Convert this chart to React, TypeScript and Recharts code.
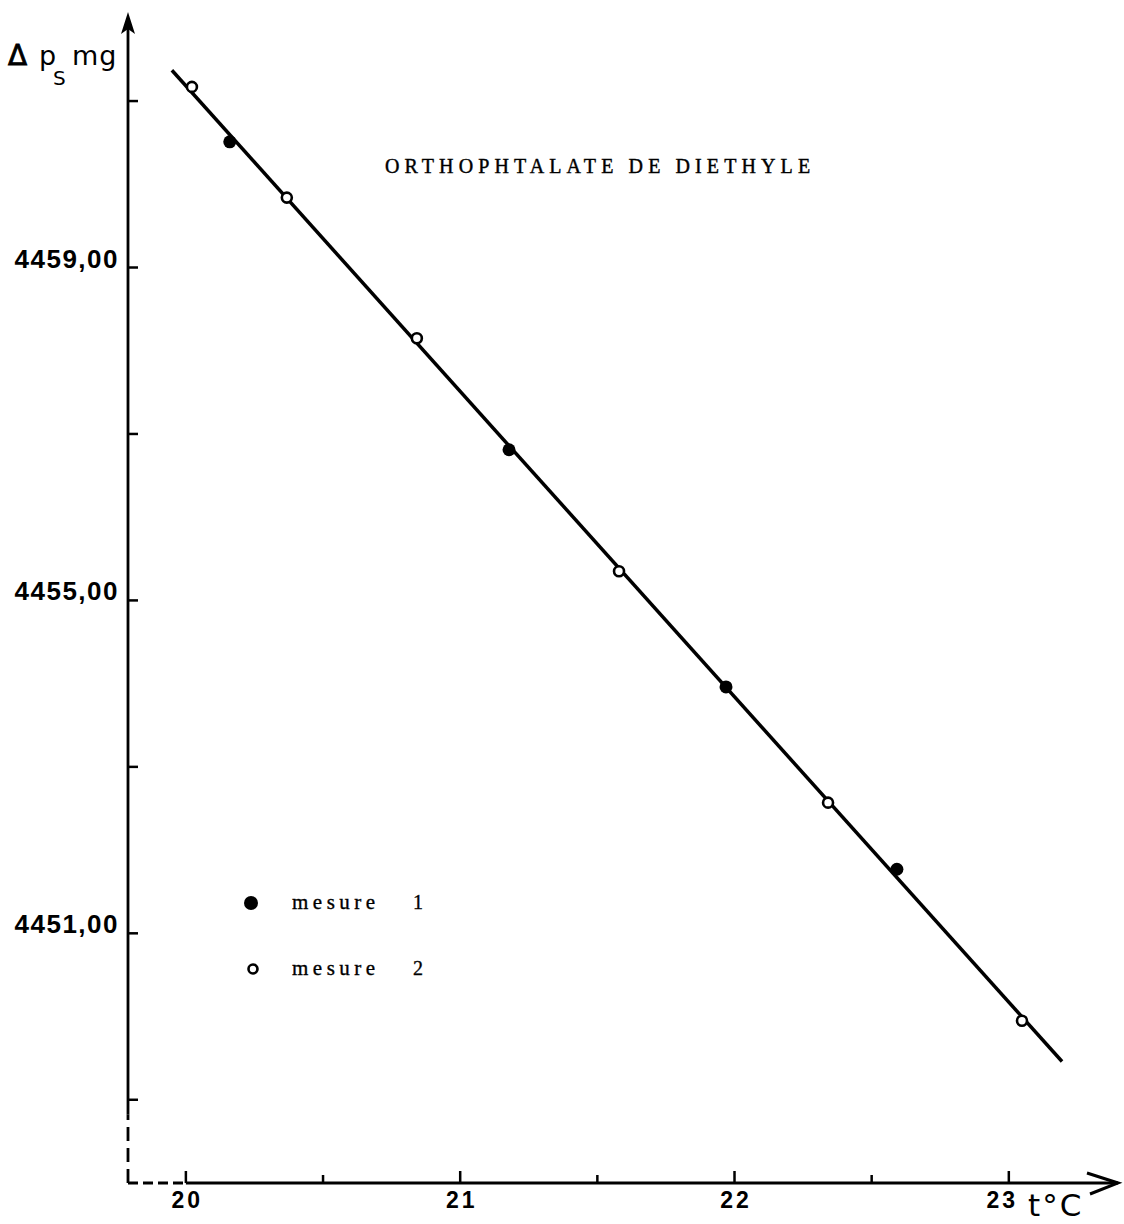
import React from 'react';
import { ScatterChart, Scatter, XAxis, YAxis, ReferenceLine, ReferenceDot, Legend } from 'recharts';

// Mesure 1 (filled dots)
const mesure1X = [20.16, 21.178, 21.969, 22.592];
const mesure1Y = [4460.51, 4456.81, 4453.96, 4451.77];
// Mesure 2 (open dots)
const mesure2X = [20.022, 20.368, 20.842, 21.579, 22.341, 23.048];
const mesure2Y = [4461.17, 4459.84, 4458.15, 4455.35, 4452.57, 4449.95];
// Fitted straight line end points
const fitX = [19.949, 23.194];
const fitY = [4461.37, 4449.46];

const xTicks = [20, 20.5, 21, 21.5, 22, 22.5, 23];
const xTickLabels = ['20', '', '21', '', '22', '', '23'];
const yTicks = [4449, 4451, 4453, 4455, 4457, 4459, 4461];
const yTickLabels = ['', '4451,00', '', '4455,00', '', '4459,00', ''];

const X_MIN = 19.789;
const X_MAX = 23.398;
const Y_MIN = 4448;
const Y_MAX = 4462.07;
const Y_DASH_END = 4448.82;

const title = 'ORTHOPHTALATE DE DIETHYLE';
const xUnit = 't°C';

const toPoints = (xs: number[], ys: number[]) => xs.map((x, i) => ({ x, y: ys[i] }));
const data1 = toPoints(mesure1X, mesure1Y);
const data2 = toPoints(mesure2X, mesure2Y);
const fitData = toPoints(fitX, fitY);

const NUM_FONT = '"Liberation Sans", Arial, sans-serif';
const SERIF = '"Liberation Serif", "Times New Roman", serif';

const FilledDot = (p: any) => <circle cx={p.cx} cy={p.cy} r={6.5} fill="#000" />;
const OpenDot = (p: any) => (
  <circle cx={p.cx} cy={p.cy} r={5} fill="#fff" stroke="#000" strokeWidth={2.6} />
);
const NoDot = () => <g />;

const YTick = (props: any) => {
  const { x, y, payload } = props;
  const idx = yTicks.indexOf(payload.value);
  const label = idx >= 0 ? yTickLabels[idx] : '';
  return (
    <g>
      <line x1={x} x2={x + 10} y1={y} y2={y} stroke="#000" strokeWidth={2.5} />
      {label && (
        <text
          x={x - 9}
          y={y}
          textAnchor="end"
          fontFamily={NUM_FONT}
          fontWeight={700}
          fontSize={26}
          letterSpacing={1.5}
          fill="#000"
        >
          {label}
        </text>
      )}
    </g>
  );
};

const XTick = (props: any) => {
  const { x, y, payload } = props;
  const idx = xTicks.indexOf(payload.value);
  const label = idx >= 0 ? xTickLabels[idx] : '';
  const major = label !== '';
  const shift = payload.value === 23 ? -8 : 0;
  return (
    <g>
      <line x1={x} x2={x} y1={y} y2={y - (major ? 12 : 8)} stroke="#000" strokeWidth={2.5} />
      {label && (
        <text
          x={x + shift + 1.5}
          y={y + 25}
          textAnchor="middle"
          fontFamily={NUM_FONT}
          fontWeight={700}
          fontSize={23}
          letterSpacing={3}
          fill="#000"
        >
          {label}
        </text>
      )}
    </g>
  );
};

const UpArrow = (p: any) => (
  <polygon
    points={`${p.cx},${p.cy} ${p.cx - 7},${p.cy + 22} ${p.cx},${p.cy + 17} ${p.cx + 7},${p.cy + 22}`}
    fill="#000"
  />
);
const RightArrow = (p: any) => (
  <polyline
    points={`${p.cx - 31},${p.cy - 10} ${p.cx},${p.cy} ${p.cx - 28},${p.cy + 11}`}
    fill="none"
    stroke="#000"
    strokeWidth={3}
  />
);

const LegendContent = (props: any) => {
  const items = (props.payload || []).filter((e: any) => e.value === 'mesure 1' || e.value === 'mesure 2');
  return (
    <svg width={230} height={110} style={{ display: 'block' }}>
      {items.map((e: any, i: number) => {
        const cy = 23 + i * 66;
        const [word, num] = String(e.value).split(' ');
        return (
          <g key={e.value}>
            {i === 0 ? (
              <circle cx={21} cy={cy} r={7} fill="#000" />
            ) : (
              <circle cx={23} cy={cy} r={4.5} fill="#fff" stroke="#000" strokeWidth={2.6} />
            )}
            <text x={62} y={cy + 6} fontFamily={SERIF} fontSize={21} letterSpacing={4.5} fill="#000" stroke="#000" strokeWidth={0.35}>
              {word}
            </text>
            <text x={183} y={cy + 6} fontFamily={SERIF} fontSize={20} fill="#000" stroke="#000" strokeWidth={0.35}>
              {num}
            </text>
          </g>
        );
      })}
    </svg>
  );
};

export default function App() {
  return (
    <div style={{ position: 'absolute', left: 0, top: 0, background: '#fff' }}>
      <ScatterChart
        width={1124}
        height={1224}
        margin={{ top: 12, left: 127, right: 6, bottom: 40 }}
      >
        <XAxis
          type="number"
          dataKey="x"
          domain={[X_MIN, X_MAX]}
          ticks={xTicks}
          allowDataOverflow
          axisLine={false}
          tickLine={false}
          tickSize={0}
          tickMargin={0}
          height={1}
          interval={0}
          tick={<XTick />}
        />
        <YAxis
          type="number"
          dataKey="y"
          domain={[Y_MIN, Y_MAX]}
          ticks={yTicks}
          allowDataOverflow
          axisLine={false}
          tickLine={false}
          tickSize={0}
          tickMargin={0}
          width={1}
          interval={0}
          tick={<YTick />}
        />
        {/* axes */}
        <ReferenceLine segment={[{ x: 20, y: Y_MIN }, { x: X_MAX, y: Y_MIN }]} stroke="#000" strokeWidth={2.8} ifOverflow="visible" />
        <ReferenceLine segment={[{ x: X_MIN, y: Y_MIN }, { x: 20, y: Y_MIN }]} stroke="#000" strokeWidth={2.8} strokeDasharray="10 5" ifOverflow="visible" />
        <ReferenceLine segment={[{ x: X_MIN, y: Y_DASH_END }, { x: X_MIN, y: Y_MAX - 0.15 }]} stroke="#000" strokeWidth={2.8} ifOverflow="visible" />
        <ReferenceLine segment={[{ x: X_MIN, y: Y_MIN }, { x: X_MIN, y: Y_DASH_END }]} stroke="#000" strokeWidth={2.8} strokeDasharray="14 7" ifOverflow="visible" />
        <ReferenceDot x={X_MIN} y={Y_MAX} shape={UpArrow} ifOverflow="visible" />
        <ReferenceDot x={X_MAX} y={Y_MIN} shape={RightArrow} ifOverflow="visible" />

        <Scatter
          name="fit"
          data={fitData}
          line={{ stroke: '#000', strokeWidth: 3.5 }}
          lineType="joint"
          shape={NoDot}
          legendType="none"
          isAnimationActive={false}
        />
        <Scatter name="mesure 1" data={data1} shape={FilledDot} fill="#000" isAnimationActive={false} />
        <Scatter name="mesure 2" data={data2} shape={OpenDot} fill="#fff" isAnimationActive={false} />

        <Legend
          layout="horizontal"
          verticalAlign="middle"
          align="center"
          content={<LegendContent />}
          wrapperStyle={{ position: 'absolute', left: 230, top: 880, width: 230, height: 110 }}
        />

        <text x={385} y={173} fontFamily={SERIF} fontSize={20} letterSpacing={5.1} fill="#000" stroke="#000" strokeWidth={0.4}>
          {title}
        </text>
        <g fontFamily='"DejaVu Sans", sans-serif' fill="#000">
          <text x={8} y={65} fontSize={28} stroke="#000" strokeWidth={0.8}>Δ</text>
          <text x={39} y={65} fontSize={27}>p</text>
          <text x={53} y={85} fontSize={20}>S</text>
          <text x={72} y={65} fontSize={27} letterSpacing={1}>mg</text>
        </g>
        <text x={1028} y={1216} fontFamily='"DejaVu Sans", sans-serif' fontSize={31} letterSpacing={2} fill="#000">
          {xUnit}
        </text>
      </ScatterChart>
    </div>
  );
}
